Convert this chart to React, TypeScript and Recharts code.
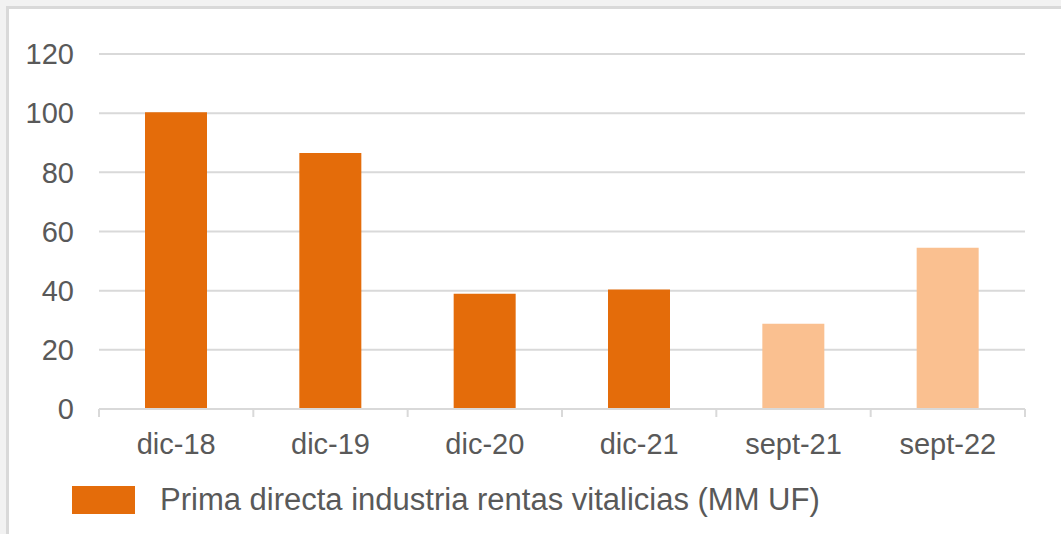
import React from 'react';
import { BarChart, Bar, Cell, XAxis, YAxis, CartesianGrid } from 'recharts';

const categories = ['dic-18', 'dic-19', 'dic-20', 'dic-21', 'sept-21', 'sept-22'];
const primaValues = [100.3, 86.5, 39, 40.4, 28.8, 54.5];
const barColors = ['#E46C0A', '#E46C0A', '#E46C0A', '#E46C0A', '#FAC090', '#FAC090'];
const yTicks = [0, 20, 40, 60, 80, 100, 120];
const seriesName = 'Prima directa industria rentas vitalicias (MM UF)';

const data = categories.map((c, i) => ({ name: c, value: primaValues[i] }));

const FONT = '"Liberation Sans", Arial, sans-serif';
const TEXT = '#595959';
const GRID = '#D9D9D9';

const W = 1061;
const H = 534;
const MARGIN = { top: 54, right: 36, left: 0, bottom: 85 };
const Y_AXIS_W = 99;
const X_AXIS_H = 40;
const PLOT_W = W - MARGIN.left - MARGIN.right - Y_AXIS_W;
const AXIS_Y = H - MARGIN.bottom - X_AXIS_H;
const BAND = PLOT_W / categories.length;

// category label plus Excel-style tick marks on the band edges
const CategoryTick = (props: any) => {
  const { x, y, payload, index } = props;
  const last = index === categories.length - 1;
  return (
    <g>
      <line x1={x - BAND / 2} x2={x - BAND / 2} y1={AXIS_Y} y2={AXIS_Y + 8} stroke={GRID} strokeWidth={2} />
      {last && (
        <line x1={x + BAND / 2} x2={x + BAND / 2} y1={AXIS_Y} y2={AXIS_Y + 8} stroke={GRID} strokeWidth={2} />
      )}
      <text x={x} y={y} dy="0.71em" textAnchor="middle" fill={TEXT} fontSize={29} fontFamily={FONT}>
        {payload.value}
      </text>
    </g>
  );
};

const App: React.FC = () => {
  return (
    <div
      style={{
        position: 'absolute',
        left: 0,
        top: 0,
        width: W,
        height: H,
        background: '#F2F2F2',
        overflow: 'hidden',
        fontFamily: FONT,
      }}
    >
      <div
        style={{
          position: 'absolute',
          left: 6,
          top: 6,
          width: 1070,
          height: 540,
          background: '#fff',
          borderLeft: `3px solid ${GRID}`,
          borderTop: `3px solid ${GRID}`,
        }}
      />
      <div style={{ position: 'absolute', left: 0, top: 0 }}>
        <BarChart width={W} height={H} data={data} margin={MARGIN}>
          <CartesianGrid xAxisId="cat" vertical={false} stroke={GRID} strokeWidth={2} />
          <XAxis
            xAxisId="cat"
            dataKey="name"
            height={X_AXIS_H}
            axisLine={{ stroke: GRID, strokeWidth: 2 }}
            tickLine={false}
            tickMargin={18}
            interval={0}
            tick={<CategoryTick />}
          />
          <YAxis
            domain={[0, 120]}
            ticks={yTicks}
            width={Y_AXIS_W}
            axisLine={false}
            tickLine={false}
            tickMargin={19}
            tick={{ fill: TEXT, fontSize: 29, fontFamily: FONT }}
          />
          <Bar xAxisId="cat" dataKey="value" name={seriesName} barSize={62} isAnimationActive={false}>
            {data.map((d, i) => (
              <Cell key={d.name} fill={barColors[i]} />
            ))}
          </Bar>
        </BarChart>
      </div>
      <div
        style={{
          position: 'absolute',
          left: 72,
          top: 486,
          height: 28,
          display: 'flex',
          alignItems: 'center',
        }}
      >
        <div style={{ width: 63, height: 28, background: barColors[0] }} />
        <span style={{ marginLeft: 25, fontSize: 31, lineHeight: '28px', color: TEXT, whiteSpace: 'nowrap' }}>
          {seriesName}
        </span>
      </div>
    </div>
  );
};

export default App;
